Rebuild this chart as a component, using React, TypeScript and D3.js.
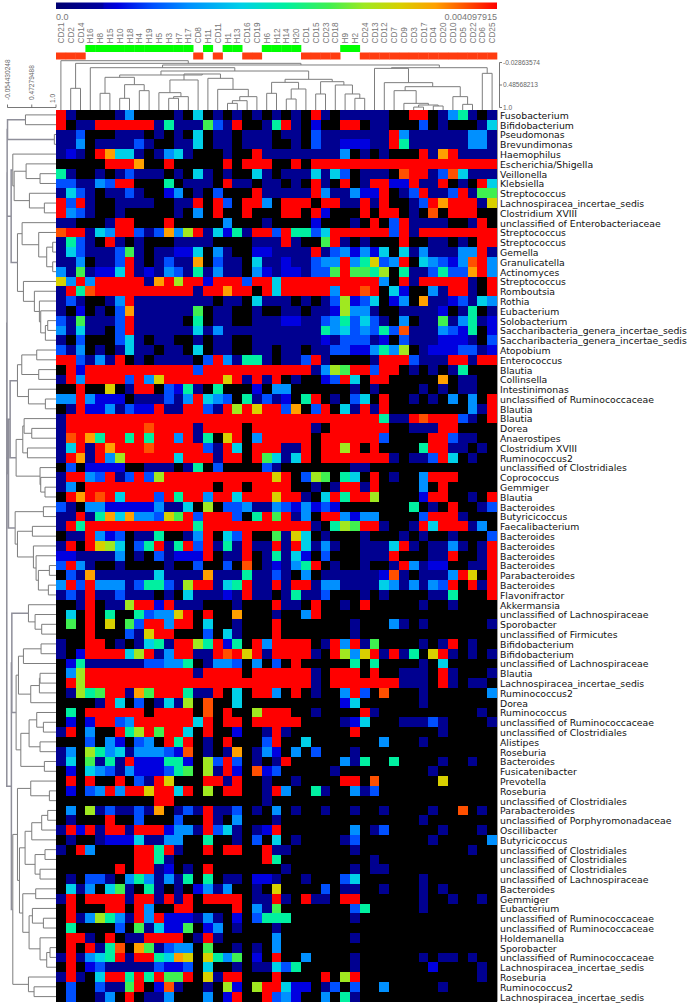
import React, { useEffect, useRef } from 'react';
import * as d3 from 'd3';

type Tree = number | [number, Tree, Tree];

const columns = ['CD21', 'CD2', 'CD14', 'H16', 'H8', 'H15', 'H10', 'H18', 'H4', 'H19', 'H5', 'H3', 'H7', 'H17', 'CD8', 'H11', 'CD11', 'H1', 'H13', 'CD16', 'CD19', 'H6', 'H12', 'H14', 'H20', 'CD1', 'CD15', 'CD23', 'CD18', 'H9', 'H2', 'CD24', 'CD13', 'CD12', 'CD7', 'CD9', 'CD3', 'CD17', 'CD4', 'CD20', 'CD10', 'CD5', 'CD22', 'CD6', 'CD25'];

const taxa = ['Fusobacterium', 'Bifidobacterium', 'Pseudomonas', 'Brevundimonas', 'Haemophilus', 'Escherichia/Shigella', 'Veillonella', 'Klebsiella', 'Streptococcus', 'Lachnospiracea_incertae_sedis', 'Clostridium XVIII', 'unclassified of Enterobacteriaceae', 'Streptococcus', 'Streptococcus', 'Gemella', 'Granulicatella', 'Actinomyces', 'Streptococcus', 'Romboutsia', 'Rothia', 'Eubacterium', 'Solobacterium', 'Saccharibacteria_genera_incertae_sedis', 'Saccharibacteria_genera_incertae_sedis', 'Atopobium', 'Enterococcus', 'Blautia', 'Collinsella', 'Intestinimonas', 'unclassified of Ruminococcaceae', 'Blautia', 'Blautia', 'Dorea', 'Anaerostipes', 'Clostridium XVIII', 'Ruminococcus2', 'unclassified of Clostridiales', 'Coprococcus', 'Gemmiger', 'Blautia', 'Bacteroides', 'Butyricicoccus', 'Faecalibacterium', 'Bacteroides', 'Bacteroides', 'Bacteroides', 'Bacteroides', 'Parabacteroides', 'Bacteroides', 'Flavonifractor', 'Akkermansia', 'unclassified of Lachnospiraceae', 'Sporobacter', 'unclassified of Firmicutes', 'Bifidobacterium', 'Bifidobacterium', 'unclassified of Lachnospiraceae', 'Blautia', 'Lachnospiracea_incertae_sedis', 'Ruminococcus2', 'Dorea', 'Ruminococcus', 'unclassified of Ruminococcaceae', 'unclassified of Clostridiales', 'Alistipes', 'Roseburia', 'Bacteroides', 'Fusicatenibacter', 'Prevotella', 'Roseburia', 'unclassified of Clostridiales', 'Parabacteroides', 'unclassified of Porphyromonadaceae', 'Oscillibacter', 'Butyricicoccus', 'unclassified of Clostridiales', 'unclassified of Clostridiales', 'unclassified of Clostridiales', 'unclassified of Lachnospiraceae', 'Bacteroides', 'Gemmiger', 'Eubacterium', 'unclassified of Ruminococcaceae', 'unclassified of Ruminococcaceae', 'Holdemanella', 'Sporobacter', 'unclassified of Ruminococcaceae', 'Lachnospiracea_incertae_sedis', 'Roseburia', 'Ruminococcus2', 'Lachnospiracea_incertae_sedis'];

// one character per cell: '.' is zero, 1..9,a,b,c are steps along the colour bar
const abundance = [
  'c1....14....1.5.1.1.1.1.1.c1.11111..cc.1461.1',
  'c.11cccccc16111731c..16c1.2..cc.11...3.1...15',
  '113...111.1.1.5.11.111.11.31111111c4111111441',
  '114.111131..115.11.111..1.31122211c6111111441',
  '121.ca551.1451...1..c111111114.1.1...c1ac1111',
  '.....ccca..c.....c.ccc..c.ccccccccccccccccccc',
  '61..1.13111.1.51.1..51.1115153.111.bcc13b5111',
  '331143cc...6.111.c11.11.1.c1.c.1cc22c11c.1.c5',
  '1531.1131..24.1.3...c11111c411422c.13c113c177',
  'c3c1..1111..11c.c3.cc4.ccc.cc11c1c..13caccc19',
  'c431..1.....1.4.c..c...cc.c2...c.cc.1.b.ccc..',
  '11...1cc...c.....4...1....2...1.c.3c1111..1c.',
  'bcc154cc313a48c15261cc3c6635cccccc3c1cccccccc',
  '1631.c1.1...1111....111c1..7c1.1...c..11.1.cc',
  '153111371.11225.41..221111c1342425.51411144c1',
  '114.113c1.1311a.311.511211344c46934c.54324bc4',
  '4171225c12143161411.421221337c7768.6113633ac4',
  '94c4ccccc1ac8cc2ccc3cc5cccccccccc4.c1ccccc1.c',
  '1c6bcccccccccc1ccacc.c5ccccc4ccbc.52..41cc1.c',
  '131..14c11111111.11.5111.1.138235.24.a1123154',
  '1.2.1.3a1111117.11..1..11.1128441..11112.16.1',
  '3171113c11111.6.11..11122113463531.4.11714612',
  '41511.3c111111514111111111164534363b1114326.2',
  '1.3...351.11..1.11..11111112133312.31112221.3',
  '314.1.1511.11.5.11..11.11.1133224648.12223312',
  'cc3141c.1.1111.3c41661.113c1....1ccc3111cc1cc',
  '.c2ccccccccccc3ccccccccccc1487cc3cc.1.1.16...',
  '1c4cccc3c49cccccc9c1c1c.1..23c5.cc.....a.11..',
  '..c..9.1cc.3261.6...2.44......1.1....1.1.11..',
  '44c4222.111314c543.61312.6c.1.35.c..1.1.4.4.c',
  '.1c2241322c11cc31c8c9cc3a.3c.51c1c........41c',
  '1cccccccccccccccccccccccccccccccc611cbccc31.c',
  '1ccccccccbcccc1cccc.cccccc1.cccccc..111cc....',
  '1bca6cc6c6cc4c16.9c.4ccccc.cccccc3....cc311..',
  '15c1cacccbccccc31c5.ccc11c.cc8c.c....6cc11.1.',
  '1ca1c48ccccc5ccc1cc.c7515c.ccccccc1.113c5.1..',
  '.3.2222..111.16.3....31.......11.............',
  '1cc43c13c38ccccccccccc9c.387.65.c.1..4ccc....',
  '14.ccccccccccccc.cc.cccc..1.1cc1c....4.c.....',
  '.cacbc5ccc3c6cc4cc5ccc9cc1.5c6cc8....2cc..1.c',
  '31.44222224115.8.334114324232.......6.1.c..13',
  '11c16a5a44397c3ccc3.6c7c14.cc4244....3ccc1...',
  '1c6ccccccccccc6ccccccccccc1.687cc1..1c5ccc14.',
  '.11c423.116..14c.53c..7195.1...1...1.1..1...3',
  '1c.c985.36c16c3c161c11c1c5141..1115c1.1141.1c',
  '2211114.1.31222c.11c.16152.3...111c...11c..1c',
  '3c41..1....1..3..3.b.12146c.1..1..1c4122..11c',
  '.31a11111151111a11161131.4.1111112b1.1114c9.c',
  '4c3c4441366318cc156c11c1cc14411115414143c.c1c',
  '131c113111.1.511121c11.16113...1.1....116...c',
  '..1c.118cc2c111...1...c11.c..1.c.....1..1....',
  '.5.c.6..63449c.c..a...1..4c..................',
  '.7.c.9.73cc4cc.5..1...c.......1...41.1......1',
  '...c...319cc...3.51...c.......1..............',
  '1..cc.1.1561cc86c26.c4cccc.1c4c17....1.1c.1..',
  '1.2cccc58c14cc11cbc9c1cccc1.c849c1c16.9c1.1.1',
  '.2611111133446.1443.4.3.c.....6.6....1.5.....',
  '.48ccccccccccc1cccc.cccccc1.ccc.c..111.c1...1',
  '.c8ccccccccccccccccccccccc1.ccccccc111.c1.11.',
  '.1867cc1a7ccc611c.5.cc4.c.1..4c3.b...1......4',
  '....1c5.3.1518.b..5..........25......1.......',
  '.6.cccccc.cccc.b.c..8ccc..1....c1..........1.',
  '.2.2cc34cccccc5c.cc.ccccc....125...11131....1',
  '1c.4..c68c7cc5.c..2..1c1......c........1.....',
  '...3.42.34.c6c.1.c...3c..5.......4...1.......',
  '14.8645144432b.1.1a.142.4.3...1..............',
  '15.7161c222662.83c3.1.1c.....416..6....1..1..',
  '.2.54314222367.81c2.b23.....1.........1......',
  '.c.c..c.31c9...cc1c..1..1....cc.b......9.....',
  '.2.34c4cc9cc5c.8.cc..1c4..61..413............',
  '..........cc.........1.......................',
  '.4.8131131a.131c113.1.4.1..1..1..1....1..b.1.',
  '.1...c..3...3..c1.4...1..............1.......',
  '1c2c1cc1ccc2441c351.12c.......4.13.....1...1.',
  '.1..122251144..6..1.3.5.1....13.......1.....4',
  '1.c4....cc6c1..c.cc..c11......1...........1..',
  '........cc61.........c6.........1............',
  '......c.cc12.1.c.......1......1.11...........',
  '.1.331.4641416.6.11.221..1...35......1.......',
  '.514.571.61.1.2414..1.9....3.11..1...1.1.....',
  '1c.cccc1cc1c1c.cccc.11c1.c11.cc......1..1..1.',
  '.c...cc.c4..cc....c.417.......36.....1.......',
  '.c148641c4c222141.2.3666......1..............',
  '.6....3.715227.24.1...1......................',
  '.cc1.c.11cccc.1c1.....4.......1..............',
  '.c.c16b.a71344.7..1.1.4......................',
  '1c1456c1cc65a9.9647.2.c..4....1......1.11.1..',
  '.c.23111113223.5..1.11536.....1.......2....1.',
  '1c1.5cc6c6c77c.91cc...c....c.8c............1.',
  '.3..3117c.2b1..1.82.8cc522.13.3..4.....1.....',
  '.3..14.c.114...4.2c..c342..4.61..............',
];

const maxValue = 0.004097915;
const stepFractions = [0, 0.07, 0.14, 0.22, 0.3, 0.42, 0.52, 0.62, 0.7, 0.78, 0.86, 0.93, 1];
const stepCodes = '.123456789abc';

const colourStops = [0, 0.105, 0.11, 0.14, 0.22, 0.3, 0.42, 0.52, 0.62, 0.7, 0.78, 0.86, 0.93, 1];
const colourRange = ['#000070', '#0000a0', '#0000c0', '#0000e0', '#0050ff', '#0090ff', '#00d0e8', '#00f0a0', '#40f050', '#a0e820', '#d8d000', '#ffa000', '#ff5000', '#ff0000'];

// column tree: [distance, left, right], numbers are column indexes
const columnTree: Tree = [-0.07, 0, [-0.0095, [0.562, 1, 2], [0.0285,
  [0.09, 3, [0.166,
    [0.257,
      [0.31, [0.676, 4, 5], [0.478, [0.79, 6, 7], [0.615, 8, 9]]],
      [0.234,
        [0.371, [0.661, 10, [0.752, [0.79, 11, 12], 13]], 14],
        [0.333, 15, [0.585, 16, [0.752, [0.844, [0.905, 17, 18], 19], 20]]]]],
    [0.356,
      [0.425, [0.676, 21, 22], [0.577, [0.806, 23, 24], 25]],
      [0.41, [0.691, 26, 27], [0.486, 28, [0.691, 29, [0.79, 30, 31]]]]]]],
  [0.09,
    [0.105, 32, [0.432, 33, [0.524,
      [0.615, 34, [0.905, 35, [0.943, [0.99, 36, 37], [0.966, 38, 39]]]],
      [0.752, 40, [0.928, 41, 42]]]]],
    [0.219, 43, 44]]]]];

// row tree, numbers are row indexes
const rowTree: Tree = [-0.07,
  [-0.065,
    [-0.062,
      [-0.054, [0.336, 0, 1], [0.964, 2, 3]],
      [0.025,
        [0.061, 4, [0.09, [0.35, 5, [0.653, 6, 7]], [0.422, 8, [0.747, 9, 10]]]],
        [0.162,
          [0.263, 11, [0.624, 12, [0.798, [0.928, 13, 14], [0.928, 15, 16]]]],
          [0.292, 17, [0.53, 18, [0.639, 19, [0.668, 20, [0.769, [0.82, 21, 22], 23]]]]]]]],
    [-0.033,
      [0.003,
        [0.162, [0.256, [0.581, 24, 25], [0.624, 26, 27]], [0.401, 28, [0.769, 29, 30]]],
        [0.133,
          [0.278, [0.307, 31, [0.473, 32, 33]], [0.379, 34, 35]],
          [0.653, 36, [0.668, 37, [0.761, 38, 39]]]]],
      [0.112, [0.726, 40, 41],
        [0.162, [0.487, 42, 43], [0.509, 44, [0.567, 45, [0.617, [0.856, 46, 47], [0.834, 48, 49]]]]]]]],
  [0.03,
    [0.04,
      [0.401, 50, [0.545, 51, [0.689, 52, 53]]],
      [0.133,
        [0.184, [0.292, [0.675, 54, 55], 56], [0.451, [0.639, [0.653, 57, 58], 59], 60]],
        [0.235, [0.415, [0.581, 61, [0.726, 62, 63]], [0.653, 64, 65]], [0.747, 66, 67]]]],
    [0.061,
      [0.162, [0.451, 68, [0.856, 69, 70]],
        [0.206,
          [0.328, [0.473, [0.689, [0.82, 71, 72], 73], 74], [0.545, [0.761, 75, 76], [0.653, 77, 78]]],
          [0.278, [0.559, 79, 80],
            [0.415, [0.487, 81, [0.726, 82, 83]], [0.653, 84, [0.798, [0.87, 85, 86], 87]]]]]],
      [0.401, 88, [0.523, 89, 90]]]]];

const columnTicks = ['-0.02863574', '0.48568213', '1.0'];
const rowTicks = ['-0.054430248', '0.47279488', '1.0'];

// flatten a tree into brackets, one per inner node
function brackets(tree: Tree, leaf: (i: number) => number, edge: number, dist: (d: number) => number) {
  const out: { a: number; ab: number; b: number; bb: number; p: number; d: number }[] = [];
  const walk = (n: Tree): { c: number; base: number } => {
    if (typeof n === 'number') return { c: leaf(n), base: edge };
    const l = walk(n[1]);
    const r = walk(n[2]);
    const p = dist(n[0]);
    out.push({ a: l.c, ab: l.base, b: r.c, bb: r.base, p, d: n[0] });
    return { c: (l.c + r.c) / 2, base: p };
  };
  walk(tree);
  return out;
}

export default function App() {
  const ref = useRef<SVGSVGElement>(null);

  useEffect(() => {
    const svg = d3.select(ref.current);
    svg.selectAll('*').remove();

    const left = 56, right = 497, top = 110, bottom = 1001.5;
    const x = d3.scaleBand<number>().domain(d3.range(columns.length)).range([left, right]);
    const y = d3.scaleBand<number>().domain(d3.range(taxa.length)).range([top, bottom]);
    const colour = d3.scaleLinear<string>().domain(colourStops.map(d => d * maxValue)).range(colourRange);
    const columnDist = d3.scaleLinear().domain([-0.02863574, 1]).range([62.5, 107.5]);
    const rowDist = d3.scaleLinear().domain([-0.054430248, 1]).range([7.5, 56]);
    const cellValue = (c: string) => stepFractions[stepCodes.indexOf(c)] * maxValue;

    const sans = '"Liberation Sans", sans-serif';

    // colour bar
    const defs = svg.append('defs');
    const grad = defs.append('linearGradient').attr('id', 'bar');
    colourStops.forEach((s, i) => grad.append('stop').attr('offset', s).attr('stop-color', colourRange[i]));
    svg.append('rect').attr('x', left).attr('y', 2.5).attr('width', right - left).attr('height', 6.5).attr('fill', 'url(#bar)');
    svg.append('text').attr('x', left).attr('y', 20).attr('font-family', sans).attr('font-size', 9).attr('fill', '#777').text('0.0');
    svg.append('text').attr('x', right).attr('y', 20).attr('text-anchor', 'end').attr('font-family', sans).attr('font-size', 9).attr('fill', '#777').text(String(maxValue));

    // column names and group strip
    svg.append('g').selectAll('text').data(columns).enter().append('text')
      .attr('transform', (_, i) => `translate(${x(i)! + x.bandwidth() / 2 + 3},43.5) rotate(-90)`)
      .attr('font-family', sans).attr('font-size', 8.2).attr('fill', '#777').text(d => d);
    svg.append('g').selectAll('rect').data(columns).enter().append('rect')
      .attr('x', (_, i) => x(i)!)
      .attr('y', d => (d[0] === 'H' ? 45 : 52.5))
      .attr('width', x.bandwidth() + 0.3).attr('height', 7)
      .attr('fill', d => (d[0] === 'H' ? '#00ff00' : '#ff3c10'));

    // dendrograms, the oldest joins are drawn heavier
    const colBr = brackets(columnTree, i => x(i)! + x.bandwidth() / 2, top, columnDist);
    const rowBr = brackets(rowTree, i => y(i)! + y.bandwidth() / 2, left, rowDist);
    const colPath = d3.path();
    colBr.forEach(b => { colPath.moveTo(b.a, b.ab); colPath.lineTo(b.a, b.p); colPath.lineTo(b.b, b.p); colPath.lineTo(b.b, b.bb); });
    const rowThin = d3.path();
    const rowHeavy = d3.path();
    rowBr.forEach(b => {
      const p = b.d < 0.05 ? rowHeavy : rowThin;
      p.moveTo(b.ab, b.a); p.lineTo(b.p, b.a); p.lineTo(b.p, b.b); p.lineTo(b.bb, b.b);
    });
    svg.append('path').attr('d', colPath.toString()).attr('fill', 'none').attr('stroke', '#7d7d7d').attr('stroke-width', 1);
    svg.append('path').attr('d', rowThin.toString()).attr('fill', 'none').attr('stroke', '#7d7d7d').attr('stroke-width', 1);
    svg.append('path').attr('d', rowHeavy.toString()).attr('fill', 'none').attr('stroke', '#8f8f9a').attr('stroke-width', 1.5);

    // distance axes
    const axisColour = '#555';
    svg.append('path').attr('d', `M${rowDist(-0.054430248)},104.5V107.5H${rowDist(1)}V104.5M${rowDist(0.47279488)},107.5V104.5`)
      .attr('fill', 'none').attr('stroke', axisColour).attr('stroke-width', 0.8);
    rowTicks.forEach(t => {
      svg.append('text').attr('transform', `translate(${rowDist(+t) + (+t === 1 ? -1 : 2)},${+t === 1 ? 103 : 100}) rotate(-90)`)
        .attr('font-family', sans).attr('font-size', 6.6).attr('fill', '#666').text(t);
    });
    svg.append('path').attr('d', `M502,${columnDist(-0.02863574)}H499.5V${columnDist(1)}H502M499.5,${columnDist(0.48568213)}H502`)
      .attr('fill', 'none').attr('stroke', axisColour).attr('stroke-width', 0.8);
    columnTicks.forEach(t => {
      svg.append('text').attr('x', 503).attr('y', columnDist(+t) + 2.3)
        .attr('font-family', sans).attr('font-size', 6.6).attr('fill', '#666').text(t);
    });

    // heat cells
    const cells = abundance.flatMap((row, r) => row.split('').map((c, i) => ({ r, i, v: cellValue(c) })));
    svg.append('g').attr('shape-rendering', 'crispEdges').selectAll('rect').data(cells).enter().append('rect')
      .attr('x', d => x(d.i)!).attr('y', d => y(d.r)!)
      .attr('width', x.bandwidth() + 0.4).attr('height', y.bandwidth() + 0.4)
      .attr('fill', d => (d.v === 0 ? '#000' : colour(d.v)));
    svg.append('line').attr('x1', right + 0.5).attr('x2', right + 0.5).attr('y1', top).attr('y2', bottom)
      .attr('stroke', '#999').attr('stroke-width', 1);

    // taxon names
    svg.append('g').selectAll('text').data(taxa).enter().append('text')
      .attr('x', 500).attr('y', (_, i) => y(i)! + y.bandwidth() / 2 + 3.9)
      .attr('font-family', '"DejaVu Sans", sans-serif').attr('font-size', 9.3).attr('fill', '#111').text(d => d);
  }, []);

  return <svg ref={ref} width={692} height={1004} style={{ position: 'absolute', left: 0, top: 0, background: '#fff' }} />;
}
